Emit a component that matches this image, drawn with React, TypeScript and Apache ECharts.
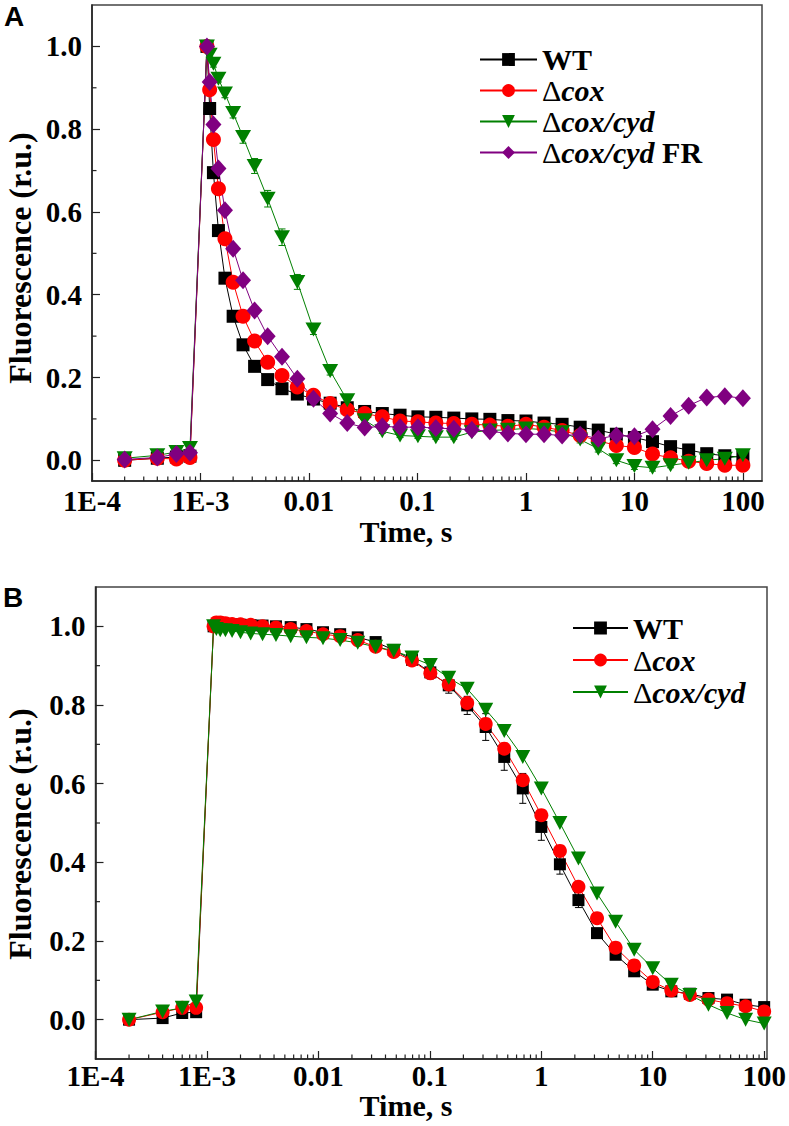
import React, { useEffect, useRef } from "react";
import * as echarts from "echarts";

// Sampling times (s): four points before the flash, then log-spaced after it
const timePoints = [0.0002, 0.0004, 0.0006, 0.0008, 0.001147, 0.001215, 0.001316, 0.001464, 0.001681, 0.002, 0.002468, 0.003154, 0.004162, 0.005642, 0.007813, 0.011, 0.01568, 0.02254, 0.03262, 0.04742, 0.06913, 0.101, 0.1478, 0.2164, 0.3172, 0.4652, 0.6823, 1.001, 1.469, 2.155, 3.163, 4.643, 6.814, 10.0, 14.68, 21.54, 31.62, 46.42, 68.13, 100];

// Panel A
const wtA = [0.0, 0.005, 0.008, 0.01, 1.0, 0.85, 0.695, 0.555, 0.44, 0.348, 0.279, 0.227, 0.195, 0.173, 0.16, 0.148, 0.138, 0.127, 0.118, 0.113, 0.109, 0.105, 0.104, 0.102, 0.1, 0.099, 0.096, 0.095, 0.09, 0.087, 0.08, 0.073, 0.063, 0.055, 0.045, 0.033, 0.025, 0.016, 0.011, 0.007];
const coxA = [0.0, 0.005, 0.003, 0.007, 1.0, 0.895, 0.775, 0.656, 0.535, 0.43, 0.348, 0.288, 0.237, 0.205, 0.177, 0.157, 0.137, 0.122, 0.113, 0.105, 0.095, 0.093, 0.09, 0.089, 0.087, 0.085, 0.082, 0.087, 0.08, 0.072, 0.06, 0.047, 0.036, 0.031, 0.015, 0.006, -0.002, -0.008, -0.012, -0.012];
const coxCydA = [0.005, 0.012, 0.02, 0.03, 1.0, 0.98, 0.958, 0.922, 0.886, 0.839, 0.781, 0.711, 0.632, 0.539, 0.431, 0.316, 0.216, 0.145, 0.097, 0.07, 0.06, 0.058, 0.056, 0.056, 0.068, 0.072, 0.074, 0.077, 0.074, 0.068, 0.05, 0.028, 0.0, -0.014, -0.018, -0.012, -0.006, 0.0, 0.004, 0.012];
const coxCydFRA = [0.002, 0.007, 0.015, 0.018, 1.0, 0.914, 0.811, 0.705, 0.604, 0.511, 0.435, 0.362, 0.3, 0.25, 0.197, 0.149, 0.113, 0.09, 0.079, 0.082, 0.08, 0.08, 0.078, 0.076, 0.074, 0.07, 0.065, 0.063, 0.063, 0.06, 0.062, 0.052, 0.06, 0.058, 0.075, 0.107, 0.132, 0.152, 0.155, 0.15];
const coxCydErrA = [0, 0, 0, 0, 0, 0.005, 0.008, 0.008, 0.01, 0.012, 0.015, 0.018, 0.02, 0.02, 0.018, 0.012, 0.01, 0.008, 0.006, 0.005, 0.005, 0.005, 0.005, 0.005, 0.006, 0.008, 0.008, 0.006, 0.01, 0.006, 0.008, 0.008, 0.008, 0.008, 0.008, 0.006, 0.006, 0.006, 0.006, 0.006];

// Panel B
const wtB = [0.0, 0.004, 0.017, 0.019, 1.0, 1.003, 1.005, 1.005, 1.005, 1.004, 1.003, 1.002, 1.0, 0.998, 0.993, 0.985, 0.98, 0.972, 0.96, 0.94, 0.915, 0.883, 0.85, 0.799, 0.744, 0.668, 0.588, 0.49, 0.395, 0.304, 0.22, 0.165, 0.123, 0.089, 0.072, 0.066, 0.055, 0.051, 0.038, 0.032];
const coxB = [0.0, 0.019, 0.03, 0.03, 1.0, 1.01, 1.01, 1.008, 1.006, 1.005, 1.004, 1.0, 0.997, 0.993, 0.988, 0.98, 0.975, 0.965, 0.948, 0.935, 0.913, 0.881, 0.852, 0.805, 0.752, 0.689, 0.609, 0.52, 0.429, 0.338, 0.258, 0.183, 0.138, 0.096, 0.074, 0.063, 0.051, 0.042, 0.034, 0.021];
const coxCydB = [0.0, 0.021, 0.03, 0.046, 1.0, 0.993, 0.99, 0.99, 0.988, 0.985, 0.982, 0.98, 0.978, 0.975, 0.972, 0.97, 0.965, 0.958, 0.948, 0.938, 0.921, 0.902, 0.869, 0.841, 0.788, 0.734, 0.668, 0.588, 0.5, 0.41, 0.321, 0.249, 0.178, 0.131, 0.089, 0.063, 0.038, 0.017, 0.0, -0.01];
const wtErrB = [0.005, 0.005, 0.005, 0.005, 0.005, 0.005, 0.005, 0.005, 0.005, 0.005, 0.005, 0.005, 0.005, 0.005, 0.006, 0.006, 0.006, 0.008, 0.008, 0.01, 0.012, 0.017, 0.02, 0.023, 0.034, 0.034, 0.038, 0.034, 0.025, 0.019, 0.012, 0.01, 0.008, 0.008, 0.008, 0.008, 0.008, 0.008, 0.008, 0.008];
const coxErrB = [0.005, 0.005, 0.005, 0.005, 0.008, 0.008, 0.008, 0.008, 0.008, 0.008, 0.008, 0.008, 0.008, 0.008, 0.008, 0.008, 0.008, 0.008, 0.008, 0.008, 0.01, 0.01, 0.012, 0.012, 0.014, 0.014, 0.014, 0.014, 0.014, 0.012, 0.01, 0.01, 0.008, 0.008, 0.008, 0.008, 0.008, 0.008, 0.008, 0.008];

// Axis decorations
const minorMantissas = [2, 3, 4, 5, 6, 7, 8, 9];
const minorDecades = [0.0001, 0.001, 0.01, 0.1, 1, 10];
const yMinorTicks = [0.1, 0.3, 0.5, 0.7, 0.9];

const SERIF = '"Liberation Serif", "Times New Roman", Times, serif';
const SANS = '"Liberation Sans", Arial, Helvetica, sans-serif';
const AXIS_COLOR = "#222";

const legendNames: Record<string, string> = {
  WT: "{b|WT}",
  "Δcox": "{d|Δ}{i|cox}",
  "Δcox/cyd": "{d|Δ}{i|cox/cyd}",
  "Δcox/cyd FR": "{d|Δ}{i|cox/cyd}{b| FR}",
};

function pairs(ys: number[]) {
  return timePoints.map((t, i) => [t, ys[i]]);
}

export default function App() {
  const ref = useRef<HTMLDivElement>(null);

  useEffect(() => {
    document.body.style.margin = "0";
    if (!ref.current) return;
    const chart = echarts.init(ref.current, null, { renderer: "svg" });

    const xMinor: number[] = [];
    minorDecades.forEach((d) => minorMantissas.forEach((m) => xMinor.push(+(m * d).toPrecision(3))));

    const LABEL_SIZE = 29;

    const makeXAxis = (gridIndex: number, max: number, margin: number) => ({
      type: "log",
      logBase: 10,
      gridIndex,
      min: 0.0001,
      max,
      axisLine: { show: true, onZero: false, lineStyle: { color: AXIS_COLOR, width: 1.5 } },
      axisTick: { show: true, inside: true, length: 8, lineStyle: { color: AXIS_COLOR, width: 1.2 } },
      splitLine: { show: false },
      minorTick: { show: false },
      axisLabel: {
        showMaxLabel: false,
        margin,
        color: "#000",
        fontFamily: SERIF,
        fontWeight: "bold",
        fontSize: LABEL_SIZE,
        formatter: (v: number) => {
          const e = Math.round(Math.log10(v));
          if (e <= -3) return "1E" + e;
          return String(Math.pow(10, e));
        },
      },
    });

    const makeYAxis = (gridIndex: number, min: number) => ({
      type: "value",
      gridIndex,
      min,
      max: 1.1,
      splitNumber: 5,
      axisLine: { show: true, onZero: false, lineStyle: { color: AXIS_COLOR, width: 1.5 } },
      axisTick: { show: true, inside: true, length: 8, lineStyle: { color: AXIS_COLOR, width: 1.2 } },
      splitLine: { show: false },
      axisLabel: {
        showMinLabel: false,
        showMaxLabel: false,
        margin: 10,
        color: "#000",
        fontFamily: SERIF,
        fontWeight: "bold",
        fontSize: LABEL_SIZE,
        formatter: (v: number) => v.toFixed(1),
      },
    });

    const tickSeries = (idx: number, yMin: number) => ({
      type: "custom",
      xAxisIndex: idx,
      yAxisIndex: idx,
      silent: true,
      z: 5,
      clip: false,
      data: [
        ...xMinor.map((v) => [v, yMin, 0]),
        ...yMinorTicks.map((v) => [0.0001, v, 1]),
      ],
      renderItem: (_p: any, api: any) => {
        const flag = api.value(2);
        const p = api.coord([api.value(0), api.value(1)]);
        const len = 4.5;
        return {
          type: "line",
          shape:
            flag === 0
              ? { x1: p[0], y1: p[1], x2: p[0], y2: p[1] - len }
              : { x1: p[0], y1: p[1], x2: p[0] + len, y2: p[1] },
          style: { stroke: AXIS_COLOR, lineWidth: 1.2 },
        };
      },
    });

    const errSeries = (idx: number, ys: number[], errs: number[], color: string) => ({
      type: "custom",
      xAxisIndex: idx,
      yAxisIndex: idx,
      silent: true,
      z: 1,
      data: timePoints.map((t, i) => [t, ys[i], errs[i]]).filter((d) => d[2] > 0),
      renderItem: (_p: any, api: any) => {
        const t = api.value(0);
        const v = api.value(1);
        const e = api.value(2);
        const hi = api.coord([t, v + e]);
        const lo = api.coord([t, v - e]);
        const w = 3.5;
        const style = { stroke: color, lineWidth: 1 };
        return {
          type: "group",
          children: [
            { type: "line", shape: { x1: hi[0], y1: hi[1], x2: lo[0], y2: lo[1] }, style },
            { type: "line", shape: { x1: hi[0] - w, y1: hi[1], x2: hi[0] + w, y2: hi[1] }, style },
            { type: "line", shape: { x1: lo[0] - w, y1: lo[1], x2: lo[0] + w, y2: lo[1] }, style },
          ],
        };
      },
    });

    const lineSeries = (
      name: string,
      idx: number,
      ys: number[],
      color: string,
      symbol: string,
      size: number | number[]
    ) => ({
      name,
      type: "line",
      xAxisIndex: idx,
      yAxisIndex: idx,
      data: pairs(ys),
      symbol,
      symbolSize: size,
      showAllSymbol: true,
      z: 3,
      itemStyle: { color, borderWidth: 0 },
      lineStyle: { color, width: 1 },
    });

    const TRI = "path://M0,0L20,0L10,17.3Z";

    const LEG_SIZE = 30;
    const legendBase = {
      orient: "vertical",
      padding: 0,
      itemGap: 0,
      selectedMode: false,
      itemWidth: 57,
      itemHeight: 16,
      textStyle: {
        color: "#000",
        fontFamily: SERIF,
        fontSize: LEG_SIZE,
        rich: {
          b: { fontFamily: SERIF, fontSize: LEG_SIZE, fontWeight: "bold", color: "#000" },
          d: { fontFamily: SERIF, fontSize: LEG_SIZE, fontWeight: "normal", color: "#000" },
          i: { fontFamily: SERIF, fontSize: LEG_SIZE, fontWeight: "bold", fontStyle: "italic", color: "#000" },
        },
      },
      formatter: (name: string) => legendNames[name] || name,
    };

    const yTitleFont = `bold 32px ${SERIF}`;
    const xTitleFont = `bold 30px ${SERIF}`;
    const centered = { align: "center", verticalAlign: "middle", textAlign: "center", textVerticalAlign: "middle" };

    const option: any = {
      animation: false,
      backgroundColor: "#fff",
      grid: [
        { left: 92, top: 5, width: 670, height: 476, show: true, borderColor: "#444", borderWidth: 1.5, backgroundColor: "transparent" },
        { left: 95.5, top: 587, width: 671.5, height: 472, show: true, borderColor: "#444", borderWidth: 1.5, backgroundColor: "transparent" },
      ],
      xAxis: [makeXAxis(0, 150, 5), makeXAxis(1, 106, 2)],
      yAxis: [makeYAxis(0, -0.05), makeYAxis(1, -0.1)],
      legend: [
        {
          ...legendBase,
          left: 479,
          top: 44,
          data: ["WT", "Δcox", "Δcox/cyd", "Δcox/cyd FR"],
          textStyle: { ...legendBase.textStyle, lineHeight: 31 },
        },
        {
          ...legendBase,
          left: 572,
          top: 612,
          itemWidth: 55,
          data: ["WT", "Δcox", "Δcox/cyd"],
          textStyle: { ...legendBase.textStyle, lineHeight: 32 },
        },
      ],
      graphic: [
        { type: "text", x: 4, y: 2, style: { text: "A", font: `bold 28px ${SANS}`, fill: "#000" } },
        { type: "text", x: 3, y: 583, style: { text: "B", font: `bold 28px ${SANS}`, fill: "#000" } },
        {
          type: "text", x: 20, y: 258, rotation: Math.PI / 2,
          style: { text: "Fluorescence (r.u.)", font: yTitleFont, fill: "#000", ...centered },
        },
        {
          type: "text", x: 20, y: 834, rotation: Math.PI / 2,
          style: { text: "Fluorescence (r.u.)", font: yTitleFont, fill: "#000", ...centered },
        },
        {
          type: "text", x: 406, y: 531,
          style: { text: "Time, s", font: xTitleFont, fill: "#000", ...centered },
        },
        {
          type: "text", x: 406, y: 1105,
          style: { text: "Time, s", font: xTitleFont, fill: "#000", ...centered },
        },
      ],
      series: [
        tickSeries(0, -0.05),
        tickSeries(1, -0.1),
        errSeries(0, coxCydA, coxCydErrA, "#008000"),
        lineSeries("WT", 0, wtA, "#000000", "rect", 13),
        lineSeries("Δcox", 0, coxA, "#ff0000", "circle", 15),
        lineSeries("Δcox/cyd", 0, coxCydA, "#008000", TRI, [16, 14]),
        lineSeries("Δcox/cyd FR", 0, coxCydFRA, "#800080", "diamond", [16, 18]),
        errSeries(1, wtB, wtErrB, "#000000"),
        errSeries(1, coxB, coxErrB, "#ff0000"),
        lineSeries("WT", 1, wtB, "#000000", "rect", 12),
        lineSeries("Δcox", 1, coxB, "#ff0000", "circle", 14),
        lineSeries("Δcox/cyd", 1, coxCydB, "#008000", TRI, [15, 14]),
      ],
    };

    chart.setOption(option);
    return () => chart.dispose();
  }, []);

  return <div ref={ref} style={{ width: 789, height: 1126 }} />;
}
